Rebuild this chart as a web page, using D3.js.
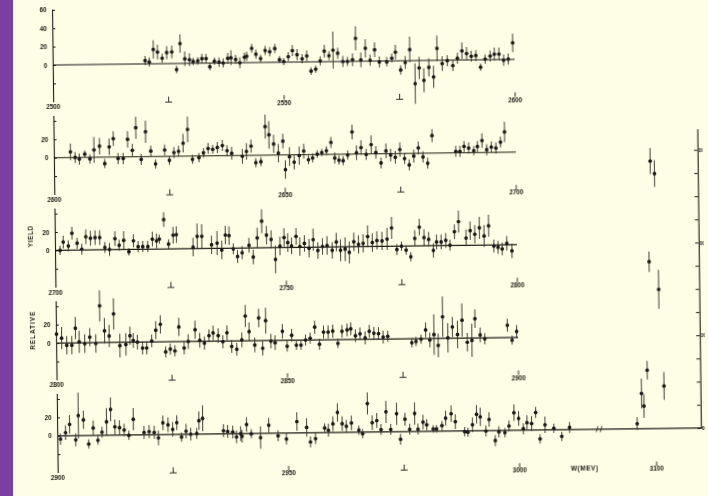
<!DOCTYPE html>
<html>
<head>
<meta charset="utf-8">
<script src="https://cdn.jsdelivr.net/npm/d3@7"></script>
<style>
html, body { margin: 0; padding: 0; background: #fefee6; }
svg { display: block; }
</style>
</head>
<body>
<svg width="708" height="496"></svg>
<script>
// scan of a W (MeV) relative-yield plot, five 100 MeV strips + psi(3100) peak

const panelStart = [2500, 2600, 2700, 2800, 2900];

const p1W = [2520.0, 2520.9, 2521.8, 2522.7, 2523.7, 2524.7, 2525.8, 2526.8, 2527.6, 2528.6, 2529.6, 2530.4, 2531.4, 2532.3, 2533.2, 2534.0, 2535.0, 2536.0, 2536.9, 2537.9, 2538.6, 2539.6, 2540.5, 2541.5, 2542.0, 2543.1, 2544.0, 2545.0, 2546.0, 2547.0, 2548.1, 2549.1, 2550.0, 2551.0, 2551.9, 2552.9, 2554.0, 2555.0, 2555.9, 2556.9, 2557.9, 2558.8, 2559.8, 2560.7, 2561.7, 2562.8, 2563.8, 2564.9, 2565.6, 2566.7, 2567.7, 2568.7, 2569.7, 2570.7, 2572.3, 2573.4, 2574.2, 2575.3, 2576.3, 2577.3, 2578.4, 2579.3, 2580.3, 2581.4, 2582.4, 2583.2, 2584.3, 2585.4, 2586.6, 2587.6, 2588.6, 2589.6, 2590.6, 2591.6, 2592.6, 2593.6, 2594.7, 2595.6, 2596.6, 2597.6, 2598.6, 2599.6];
const p1Y = [3.6, 2, 15.6, 12.7, 6, 12, 12.7, -6.5, 21.7, 5, 4, 2, 2.5, 5, 5, -4, 2, 1, 0, 5, 5.5, 3.6, 0, 6, 7, 15.5, 9, 4.3, 13, 11.6, 15, 2.8, 0.7, 6, 12.5, 8, 3.5, 6.5, -10, -8, 1, 11.5, 6.5, 12.5, 9, 0, 0, 1.8, 25, 1.5, 14, 1, 12.3, -1, -1, 3, 9.5, -10, -2, 12, -25, -8, -21.5, -7.5, -18, 13, -3.6, -0.5, -6, 2, 10, 7, 4, 4.7, -8, 0.7, 4, 6, 6, -0.7, 0.4, 18];
const p1E = [5, 5, 10, 8, 5, 7, 7, 4, 10, 8, 7, 4, 4, 5, 5, 4, 4, 5, 5, 6, 8, 5, 6, 5, 5, 5, 5, 4, 5, 5, 5, 4, 4, 5, 6, 6, 5, 6, 4, 4, 5, 7, 5, 20, 6, 6, 5, 7, 13, 8, 10, 6, 8, 6, 5, 5, 8, 5, 7, 14, 22, 12, 13, 10, 12, 14, 8, 6, 6, 6, 9, 7, 6, 6, 4, 5, 6, 7, 7, 6, 6, 10];

const p2W = [2603.6, 2604.6, 2605.5, 2606.7, 2607.8, 2608.7, 2609.9, 2611.0, 2612.0, 2612.9, 2613.9, 2615.0, 2616.0, 2617.0, 2617.8, 2618.9, 2619.9, 2621.0, 2622.0, 2624.0, 2625.0, 2626.0, 2627.0, 2628.0, 2629.0, 2630.0, 2631.4, 2632.4, 2633.4, 2634.4, 2635.4, 2636.5, 2637.5, 2638.5, 2640.8, 2641.7, 2642.7, 2643.7, 2644.8, 2645.8, 2646.6, 2647.6, 2648.6, 2649.6, 2650.1, 2651.0, 2652.0, 2653.1, 2654.1, 2655.1, 2656.0, 2657.0, 2658.0, 2659.0, 2660.0, 2660.8, 2661.7, 2662.6, 2663.6, 2664.6, 2665.5, 2666.5, 2667.6, 2668.7, 2669.7, 2670.8, 2671.9, 2672.9, 2673.9, 2674.9, 2675.9, 2676.9, 2677.9, 2678.9, 2679.9, 2680.9, 2681.9, 2687.0, 2687.9, 2688.8, 2689.8, 2690.9, 2691.7, 2692.7, 2693.7, 2694.7, 2695.7, 2696.7, 2697.6];
const p2Y = [6.2, 0, -1.8, 3.6, -1.8, 8, 12, -7, 11, 20, -1.8, -1.8, 19, 7, 31.5, -3, 27, 6, -8, 7, -4.3, 4, 5.4, 14, 29, -3.6, -1.8, 3.3, 8, 7, 9, 11, 5.4, 2.5, -1, 4.3, 10, -8, -7, 31, 22, 12, 2, 15, -16, -2, -8, -1, 4, -5.5, -3.6, 0.5, 2, 4, 13, -4, -6.5, -7, -1, 24, 1.4, 7, -0.5, 10, 1.4, -10, 3, -1.5, -4, 4.3, -5.5, -12.5, -3, 5.8, -4, -11, 19, 1.6, 1.5, 6.8, 5, 2, 6.5, 13, 3, 5.8, 4.7, 11, 22];
const p2E = [9, 6, 6, 4, 5, 14, 9, 5, 9, 8, 6, 6, 9, 7, 12, 6, 12, 6, 5, 6, 5, 6, 6, 10, 14, 5, 5, 5, 6, 5, 6, 6, 6, 7, 8, 9, 7, 5, 5, 13, 15, 10, 10, 8, 10, 10, 8, 10, 8, 5, 5, 4, 4, 5, 6, 6, 5, 5, 5, 8, 8, 8, 6, 10, 7, 6, 8, 7, 7, 8, 6, 6, 7, 7, 6, 6, 7, 6, 6, 6, 6, 5, 6, 8, 6, 6, 6, 6, 11];

const p3W = [2701.1, 2701.8, 2702.9, 2703.7, 2704.8, 2705.8, 2706.7, 2707.7, 2708.7, 2709.7, 2710.8, 2711.8, 2713.0, 2713.9, 2714.9, 2716.0, 2717.0, 2718.0, 2719.0, 2720.1, 2721.1, 2722.0, 2722.6, 2723.6, 2724.6, 2725.6, 2726.3, 2729.9, 2730.8, 2731.8, 2733.9, 2735.1, 2736.1, 2736.9, 2737.7, 2738.6, 2739.5, 2740.5, 2742.0, 2742.9, 2743.8, 2744.8, 2745.8, 2746.8, 2747.7, 2748.7, 2749.6, 2750.4, 2751.2, 2752.2, 2753.0, 2754.0, 2755.0, 2755.9, 2756.9, 2757.9, 2758.9, 2760.0, 2760.9, 2761.8, 2762.8, 2763.7, 2764.7, 2765.7, 2766.7, 2767.7, 2768.7, 2769.7, 2770.8, 2771.9, 2772.9, 2774.0, 2775.0, 2776.0, 2777.0, 2777.9, 2778.9, 2779.9, 2780.9, 2781.9, 2782.6, 2783.6, 2784.6, 2785.5, 2786.5, 2787.4, 2789.0, 2789.9, 2790.9, 2791.9, 2792.9, 2793.9, 2795.0, 2795.9, 2796.8, 2797.8, 2798.9];
const p3Y = [0, 9, 4.7, 18.5, 7.6, 1, 14.5, 12.7, 13.4, 13.4, 2.5, 0.4, 12, 4.7, 10, -2.5, 9.4, 3, 3, 3, 11, 9, 11, 32, 5.4, 15, 15.6, 1.8, 13.4, 13.4, 4, 5.8, -1.8, 14.5, 13.8, -0.7, -9, -5, 3, -9.8, 11, 29, 13.8, 9, -12.7, 1.8, 11, 5.4, 1.8, 12, 1, 4.3, -1, 8.3, -3.6, 0.7, 1.8, -3.6, 5.4, -3.6, -2.5, -6, 5.4, 2.5, 3.6, 11, 4.3, 6.5, 6, 8, 20, -3.6, 0, -4.3, -11.6, 8.3, 20.5, 9, 7, -5, 4, 4, 5.8, 0.4, 15, 26, 8, 16, 12, 19, 10, 21, -1, -2.5, -4.3, 1.8, -6.5];
const p3E = [5, 7, 6, 7, 6, 6, 8, 8, 8, 8, 6, 7, 8, 6, 10, 4, 7, 6, 6, 6, 8, 8, 5, 8, 5, 9, 9, 10, 14, 13, 10, 13, 10, 10, 10, 6, 7, 7, 8, 8, 11, 13, 10, 10, 15, 10, 10, 10, 9, 9, 10, 9, 10, 12, 9, 9, 10, 9, 10, 12, 13, 12, 10, 10, 10, 12, 10, 10, 10, 12, 12, 6, 5, 5, 5, 9, 9, 9, 8, 8, 8, 8, 8, 6, 8, 12, 9, 10, 10, 12, 12, 12, 7, 7, 7, 8, 8];

const p4W = [2800.1, 2801.2, 2802.3, 2803.4, 2804.2, 2805.0, 2806.2, 2807.3, 2808.6, 2809.5, 2810.5, 2811.5, 2812.5, 2813.8, 2815.1, 2816.0, 2816.7, 2817.6, 2818.7, 2819.6, 2820.7, 2821.6, 2822.6, 2823.7, 2824.7, 2825.7, 2826.6, 2827.7, 2828.6, 2830.1, 2831.1, 2832.1, 2833.1, 2834.0, 2835.1, 2836.1, 2837.0, 2838.0, 2839.1, 2840.2, 2841.0, 2841.8, 2843.0, 2843.9, 2844.7, 2845.4, 2846.5, 2847.4, 2849.0, 2850.0, 2851.0, 2852.0, 2853.0, 2854.0, 2855.0, 2856.0, 2857.0, 2857.9, 2858.9, 2859.9, 2861.0, 2861.9, 2863.0, 2863.8, 2864.8, 2865.8, 2866.9, 2867.8, 2868.8, 2869.8, 2870.8, 2871.8, 2877.0, 2877.9, 2879.0, 2880.0, 2880.9, 2881.8, 2882.7, 2883.7, 2884.8, 2885.8, 2886.9, 2887.9, 2889.0, 2890.0, 2890.7, 2891.8, 2892.8, 2897.7, 2898.7, 2899.7];
const p4Y = [9.8, 5.4, -2.5, -2.5, 16, 1, -1, 6, -1, 40, 12.7, 7, 31, -3.6, -2.5, 7, 1.8, 0, -6.5, -6.5, 1, 12.7, 19, -11, -8, -10, 16, -7, 0, 12.7, 1, -2, 6, 9, 6, -0.7, 9, -6, -9, 1, 27, 10, -4.7, 24.6, -8.3, 21.7, -0.7, -2.5, 9.8, -6.5, 5.4, -5.4, -5.4, 0, 2, 14, -4.7, 8.5, 8.5, 9.4, -4, 9, 10.5, 11.6, 4, 6, 1.5, 8.7, 6.5, 6, 2.2, 3, -4.3, -3, -0.5, 9.4, -1.6, 4.3, -7.6, 23.5, 0.5, 12.3, 4, 19.5, -4.5, -2.5, 21, 3.3, -1, 13.4, -2.9, 6.5];
const p4E = [10, 12, 10, 10, 12, 12, 10, 10, 10, 17, 14, 12, 17, 13, 12, 10, 8, 8, 7, 7, 7, 10, 10, 6, 6, 6, 10, 7, 8, 10, 8, 7, 7, 8, 8, 7, 8, 7, 7, 8, 12, 10, 8, 10, 8, 14, 8, 8, 8, 6, 7, 5, 5, 6, 6, 7, 6, 7, 7, 7, 5, 7, 7, 7, 7, 7, 7, 7, 7, 7, 7, 6, 5, 5, 5, 8, 8, 22, 13, 22, 16, 11, 15, 18, 10, 18, 10, 8, 6, 7, 5, 7];

const p5W = [2900.7, 2901.8, 2902.7, 2904.0, 2904.6, 2905.7, 2906.8, 2907.8, 2908.8, 2909.7, 2910.7, 2911.6, 2912.5, 2913.5, 2914.5, 2915.5, 2916.5, 2918.8, 2919.9, 2921.0, 2921.9, 2922.9, 2924.0, 2925.0, 2925.9, 2926.9, 2927.9, 2928.9, 2930.2, 2930.7, 2931.5, 2936.0, 2936.9, 2938.0, 2938.8, 2939.7, 2940.0, 2941.0, 2942.0, 2944.0, 2945.8, 2947.8, 2949.6, 2951.9, 2954.0, 2954.8, 2955.9, 2957.9, 2958.7, 2959.7, 2960.7, 2961.7, 2962.6, 2963.7, 2965.3, 2966.1, 2967.2, 2968.2, 2969.2, 2970.1, 2971.2, 2972.2, 2973.5, 2974.3, 2975.3, 2976.3, 2977.4, 2978.1, 2979.2, 2980.0, 2981.4, 2982.1, 2983.3, 2984.1, 2985.3, 2986.2, 2988.2, 2988.9, 2989.9, 2990.8, 2991.6, 2992.8, 2993.5, 2994.8, 2995.6, 2996.9, 2997.8, 2998.9, 2999.9, 3000.9, 3001.7, 3002.7, 3003.6, 3004.5, 3005.6, 3007.5, 3009.2, 3010.9];
const p5Y = [-3.6, 3.3, 12.3, -4.7, 21.7, 17, -9.4, 8, -5.4, 3.3, 14.5, 28, 9, 8, 5.4, -0.4, 17, 2.5, 3.3, 2.5, -3.6, 12.7, 10.5, 5.4, 12.7, -3, 3.3, 0, 0.7, 14.5, 17, 3.3, 2.5, 1.8, -3.6, 0, -3, 9.8, -0.4, -4.7, 8.7, -3, -6.5, 12.3, 5.8, -10, -6.5, 5, 2.5, 9.4, 21.7, 9.4, 6.5, 10, 2.2, -1.8, 31, 10, 12.3, 2.5, 21.7, 2.5, 19.5, -8.3, 13.4, 2.5, 19.5, 2.5, 10, 7, 2.5, 2.5, 6, 14, 18.8, 10, -1, -1.6, 6.5, 17.8, 15, -0.5, 12, -11, -1.5, -2.5, 4.7, 19, 12.7, 1.5, 8, 7, 19, -9.8, 5.4, 1.6, -7.4, 2.3];
const p5E = [6, 8, 10, 7, 25, 10, 5, 8, 5, 6, 15, 13, 8, 8, 7, 5, 12, 7, 7, 7, 8, 8, 8, 8, 8, 5, 8, 7, 6, 10, 14, 7, 7, 7, 7, 8, 7, 8, 5, 12, 8, 6, 6, 10, 10, 6, 6, 5, 7, 8, 10, 8, 7, 8, 5, 5, 12, 8, 8, 6, 12, 6, 12, 6, 7, 6, 12, 6, 8, 6, 4, 4, 5, 8, 9, 8, 5, 5, 8, 10, 10, 6, 8, 6, 6, 5, 6, 9, 8, 6, 8, 8, 6, 5, 9, 5, 5, 6];

// psi(3100) points, read against the right-hand axis
const psiW = [3095.9, 3096.9, 3097.4, 3098.2, 3098.9, 3099.4, 3100.3, 3100.9, 3101.8];
const psiY = [5.4, 38, 24.4, 63, 180, 288.6, 275, 150, 45.7];
const psiE = [7, 16, 12.7, 10, 11, 14, 14.5, 21, 15];

const rightTicks = [0, 25, 50, 75, 100, 125, 150, 175, 200, 225, 250, 275, 300];

const ink = "#1b1a15";
const axisX = 55, mevPx = 4.62, unitPx = 0.92, firstBase = 65, baseStep = 92.7;

const svg = d3.select("svg");
svg.append("rect").attr("width", 708).attr("height", 496).attr("fill", "#fefee6");
svg.append("rect").attr("width", 13).attr("height", 496).attr("fill", "#7b3fa4");

svg.append("defs").append("filter").attr("id", "scan")
    .attr("x", "-5%").attr("y", "-5%").attr("width", "110%").attr("height", "110%")
    .append("feGaussianBlur").attr("stdDeviation", 0.35);

// the page sits a little crooked on the scanner
const g = svg.append("g")
    .attr("transform", "rotate(-0.7,55,251)")
    .attr("filter", "url(#scan)");

const panels = [
    {w: p1W, y: p1Y, e: p1E},
    {w: p2W, y: p2Y, e: p2E},
    {w: p3W, y: p3Y, e: p3E},
    {w: p4W, y: p4Y, e: p4E},
    {w: p5W, y: p5Y, e: p5E}
];

function smallText(sel) {
    sel.attr("font-family", "Liberation Sans, Arial, sans-serif")
        .attr("font-weight", "bold")
        .attr("font-size", 6.4)
        .attr("fill", ink);
}

let lastX, lastBase;

panels.forEach((p, i) => {
    const start = panelStart[i];
    const base = firstBase + i * baseStep;
    const top = i === 0 ? 60.5 : 46;
    const last = i === 4;

    const y = d3.scaleLinear().domain([-40, top]).range([base + 40 * unitPx, base - top * unitPx]);
    const x = last
        ? d3.scaleLinear().domain([2900, 3017, 3088, 3110])
            .range([axisX, axisX + 117 * mevPx, 654 - 12 * mevPx, 654 + 10 * mevPx])
        : d3.scaleLinear().domain([start, start + 100]).range([axisX, axisX + 100 * mevPx]);

    // y axis, ticks pointing inward
    const labelled = i === 0 ? [0, 20, 40, 60] : [0, 20];
    const ya = g.append("g")
        .attr("transform", `translate(${axisX},0)`)
        .call(d3.axisLeft(y)
            .tickValues(i === 0 ? [-20, 0, 20, 40, 60] : [-20, 0, 20, 40])
            .tickSizeInner(-3).tickSizeOuter(0).tickPadding(5.5)
            .tickFormat(d => labelled.includes(d) ? d : ""));
    ya.select(".domain").attr("stroke", ink).attr("stroke-width", 1.1);
    ya.selectAll(".tick line").attr("stroke", ink).attr("stroke-width", 1);
    ya.selectAll(".tick text").call(smallText);

    // energy at the start of the strip, under the y axis
    g.append("text").attr("x", axisX).attr("y", base + 44.3)
        .attr("text-anchor", "middle").text(start).call(smallText);

    // zero line
    g.append("line")
        .attr("x1", x(start)).attr("x2", x(last ? 3110 : start + 100))
        .attr("y1", y(0)).attr("y2", y(0))
        .attr("stroke", ink).attr("stroke-width", 1.15);

    // energy ticks at the foot of the strip
    const ticks = [start + 25, start + 50, start + 75, start + 100];
    if (last) ticks.push(3100);
    ticks.forEach(t => {
        const tx = x(t);
        if ((t - start) % 50 === 0) {
            g.append("line").attr("x1", tx).attr("x2", tx)
                .attr("y1", base + 33).attr("y2", base + 37.5)
                .attr("stroke", ink).attr("stroke-width", 0.9);
            g.append("text").attr("x", tx).attr("y", base + 42.5)
                .attr("text-anchor", "middle").text(t).call(smallText);
        } else {
            g.append("path")
                .attr("d", `M${tx},${base + 33}V${base + 38.5}M${tx - 3.5},${base + 38.5}H${tx + 3.5}`)
                .attr("fill", "none").attr("stroke", ink).attr("stroke-width", 0.9);
        }
    });

    const pts = p.w.map((w, k) => ({w: w, v: p.y[k], e: p.e[k]}));
    drawPoints(g.append("g"), pts, x, y);

    if (last) { lastX = x; lastBase = base; }
});

function drawPoints(sel, pts, x, y) {
    sel.selectAll("line").data(pts).join("line")
        .attr("x1", d => x(d.w)).attr("x2", d => x(d.w))
        .attr("y1", d => y(d.v - d.e)).attr("y2", d => y(d.v + d.e))
        .attr("stroke", "#36342c").attr("stroke-width", 1.05).attr("opacity", 0.9);
    sel.selectAll("circle").data(pts).join("circle")
        .attr("cx", d => x(d.w)).attr("cy", d => y(d.v))
        .attr("r", 1.85).attr("fill", ink);
}

// axis break on the last strip
const bx = lastX(3050);
g.append("path")
    .attr("d", `M${bx - 3},${lastBase + 3}L${bx - 1},${lastBase - 3}M${bx + 1},${lastBase + 3}L${bx + 3},${lastBase - 3}`)
    .attr("fill", "none").attr("stroke", ink).attr("stroke-width", 0.8);

// right-hand axis for the psi peak; its labels are squeezed against the page edge
const yR = d3.scaleLinear().domain([0, 323]).range([lastBase, lastBase - 323 * 0.927]);
const ra = g.append("g")
    .attr("transform", `translate(${lastX(3110) - 1.5},0)`)
    .call(d3.axisRight(yR).tickValues(rightTicks)
        .tickSizeInner(-3.5).tickSizeOuter(0).tickPadding(1)
        .tickFormat(d => d % 100 === 0 ? d : ""));
ra.select(".domain").attr("stroke", ink).attr("stroke-width", 1.1);
ra.selectAll(".tick line").attr("stroke", ink).attr("stroke-width", 1);
ra.selectAll(".tick text").call(smallText)
    .attr("font-size", 5.2)
    .attr("textLength", d => d === 0 ? null : 4.2)
    .attr("lengthAdjust", "spacingAndGlyphs");

const psiPts = psiW.map((w, k) => ({w: w, v: psiY[k], e: psiE[k]}));
drawPoints(g.append("g"), psiPts, lastX, yR);

g.append("text").attr("x", 582).attr("y", lastBase + 41.5)
    .attr("text-anchor", "middle").attr("letter-spacing", 0.6)
    .text("W(MEV)").call(smallText);

// axis title, written up the page
g.append("text").attr("transform", "translate(33,236) rotate(-90)")
    .attr("text-anchor", "middle").attr("letter-spacing", 0.6)
    .text("YIELD").call(smallText);
g.append("text").attr("transform", "translate(34,330) rotate(-90)")
    .attr("text-anchor", "middle").attr("letter-spacing", 1)
    .text("RELATIVE").call(smallText);
</script>
</body>
</html>
